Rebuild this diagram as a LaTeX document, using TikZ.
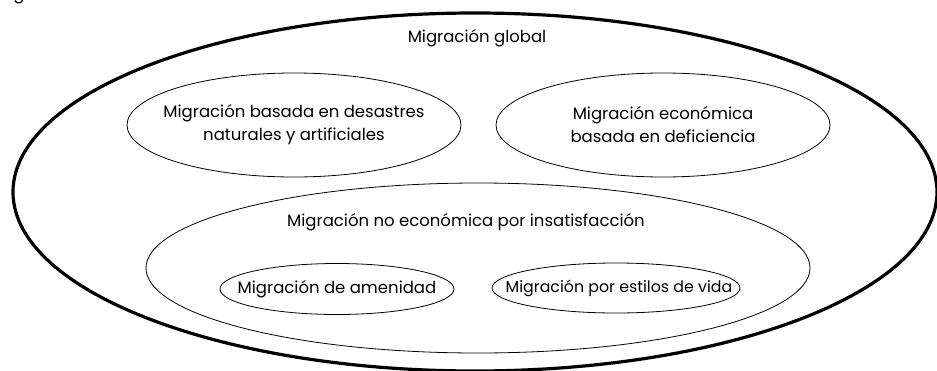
\documentclass[tikz,border=0pt]{standalone}
\usepackage{fontspec}
\setmainfont{Poppins}
\usetikzlibrary{shapes.geometric}
\tikzset{
    zone/.style={
        ellipse, draw, line width=0.8pt, inner sep=0pt
    },
    bigzone/.style={
        zone, line width=3.2pt
    },
    txt/.style={
        align=center, inner sep=0pt, font=\fontsize{16.5}{23}\selectfont
    }
}

\begin{document}
\begin{tikzpicture}[x=1pt, y=-1pt]
        \useasboundingbox (0,0) rectangle (937,370);
        %\draw[help lines, step=10] (0,0) grid (937,370);

        \node[txt, anchor=base] (Caption) at (19,-1) {g};

        \node[bigzone, minimum width=924pt, minimum height=358pt] (Global) at (475,192) {};
        \node[txt] (GlobalText) at (477,38) {Migración global};

        \node[zone, minimum width=334pt, minimum height=104pt] (Desastres) at (294,125) {};
        \node[txt] (DesastresText) at (Desastres.center) {Migración basada en desastres\\naturales y artificiales};

        \node[zone, minimum width=334pt, minimum height=104pt] (Deficiencia) at (663,125) {};
        \node[txt] (DeficienciaText) at (Deficiencia.center) {Migración económica\\basada en deficiencia};

        \node[zone, minimum width=664pt, minimum height=170pt] (Insatisfaccion) at (478,268) {};
        \node[txt] (InsatisfaccionText) at (466,222) {Migración no económica por insatisfacción};

        \node[zone, minimum width=234pt, minimum height=51pt] (Amenidad) at (337,289) {};
        \node[txt] (AmenidadText) at (Amenidad.center) {Migración de amenidad};

        \node[zone, minimum width=248pt, minimum height=50pt] (Estilos) at (616,288) {};
        % narrower letters in the original here
        \node[txt, font=\fontsize{15.8}{23}\selectfont] (EstilosText) at (619,288) {Migración por estilos de vida};
    \end{tikzpicture}
\end{document}
